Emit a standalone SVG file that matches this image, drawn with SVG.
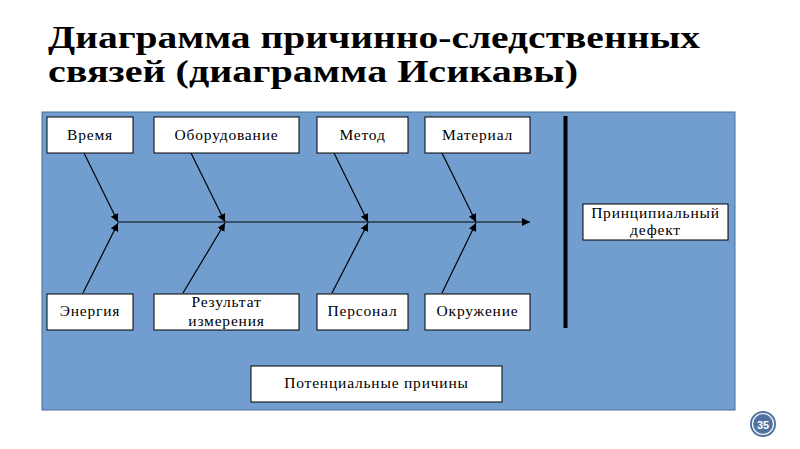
<svg xmlns="http://www.w3.org/2000/svg" width="800" height="449" viewBox="0 0 800 449">
<defs>
<marker id="ah" viewBox="0 0 10 10" refX="10" refY="5" markerWidth="8" markerHeight="8" markerUnits="userSpaceOnUse" orient="auto">
<path d="M0,0 L10,5 L0,10 z" fill="#000"/>
</marker>
<style>
.box{fill:#fff;stroke:#000;stroke-width:1}
.lbl{font-family:"Liberation Serif",serif;font-size:15.500px;letter-spacing:0.800px;fill:#000;text-anchor:middle}
.ttl{font-family:"Liberation Serif",serif;font-weight:bold;font-size:32px;fill:#000}
.ar{stroke:#000;stroke-width:1.2;fill:none;marker-end:url(#ah)}
</style>
</defs>
<rect width="800" height="449" fill="#fff"/>
<g id="title">
<text class="ttl" x="48" y="48" textLength="652" lengthAdjust="spacingAndGlyphs">Диаграмма причинно-следственных</text>
<text class="ttl" x="48" y="82" textLength="530" lengthAdjust="spacingAndGlyphs">связей (диаграмма Исикавы)</text>
</g>
<rect id="panel" x="42" y="112" width="693" height="298" fill="#729ECF" stroke="#4A6E9A" stroke-width="1"/>
<g id="connectors">
<line class="ar" x1="118" y1="222" x2="530" y2="222"/>
<line class="ar" x1="84" y1="153" x2="118" y2="222"/>
<line class="ar" x1="191" y1="153" x2="225" y2="222"/>
<line class="ar" x1="334" y1="153" x2="368" y2="222"/>
<line class="ar" x1="442" y1="153" x2="476" y2="222"/>
<line class="ar" x1="83" y1="293" x2="118" y2="223"/>
<line class="ar" x1="183" y1="293" x2="225" y2="223"/>
<line class="ar" x1="332" y1="293" x2="368" y2="223"/>
<line class="ar" x1="442" y1="293" x2="476" y2="223"/>
<line x1="565.500" y1="116" x2="565.500" y2="328" stroke="#000" stroke-width="4"/>
</g>
<g id="n-vremya"><rect class="box" x="47" y="117" width="86" height="36"/><text class="lbl" x="90" y="140">Время</text></g>
<g id="n-oborud"><rect class="box" x="154" y="117" width="145" height="36"/><text class="lbl" x="226.500" y="140">Оборудование</text></g>
<g id="n-metod"><rect class="box" x="317" y="117" width="91" height="36"/><text class="lbl" x="362.500" y="140">Метод</text></g>
<g id="n-material"><rect class="box" x="425" y="117" width="105" height="36"/><text class="lbl" x="477.500" y="140">Материал</text></g>
<g id="n-energiya"><rect class="box" x="47" y="294" width="86" height="36"/><text class="lbl" x="90" y="316">Энергия</text></g>
<g id="n-rezultat"><rect class="box" x="154" y="294" width="145" height="36"/><text class="lbl" x="226.500" y="307">Результат</text><text class="lbl" x="226.500" y="326">измерения</text></g>
<g id="n-personal"><rect class="box" x="317" y="294" width="91" height="36"/><text class="lbl" x="362.500" y="316">Персонал</text></g>
<g id="n-okruzh"><rect class="box" x="425" y="294" width="105" height="36"/><text class="lbl" x="477.500" y="316">Окружение</text></g>
<g id="n-defekt"><rect class="box" x="583" y="204" width="145" height="36"/><text class="lbl" x="655.500" y="218">Принципиальный</text><text class="lbl" x="655.500" y="235">дефект</text></g>
<g id="n-prichiny"><rect class="box" x="251" y="366" width="251" height="36"/><text class="lbl" x="376.500" y="388">Потенциальные причины</text></g>
<g id="pagenum">
<circle cx="763" cy="424" r="13" fill="#4F73A0"/>
<circle cx="763" cy="424" r="10.500" fill="none" stroke="#fff" stroke-width="1.2"/>
<text x="763" y="428.500" font-family="'Liberation Sans',sans-serif" font-size="11" font-weight="bold" fill="#fff" text-anchor="middle">35</text>
</g>
</svg>
